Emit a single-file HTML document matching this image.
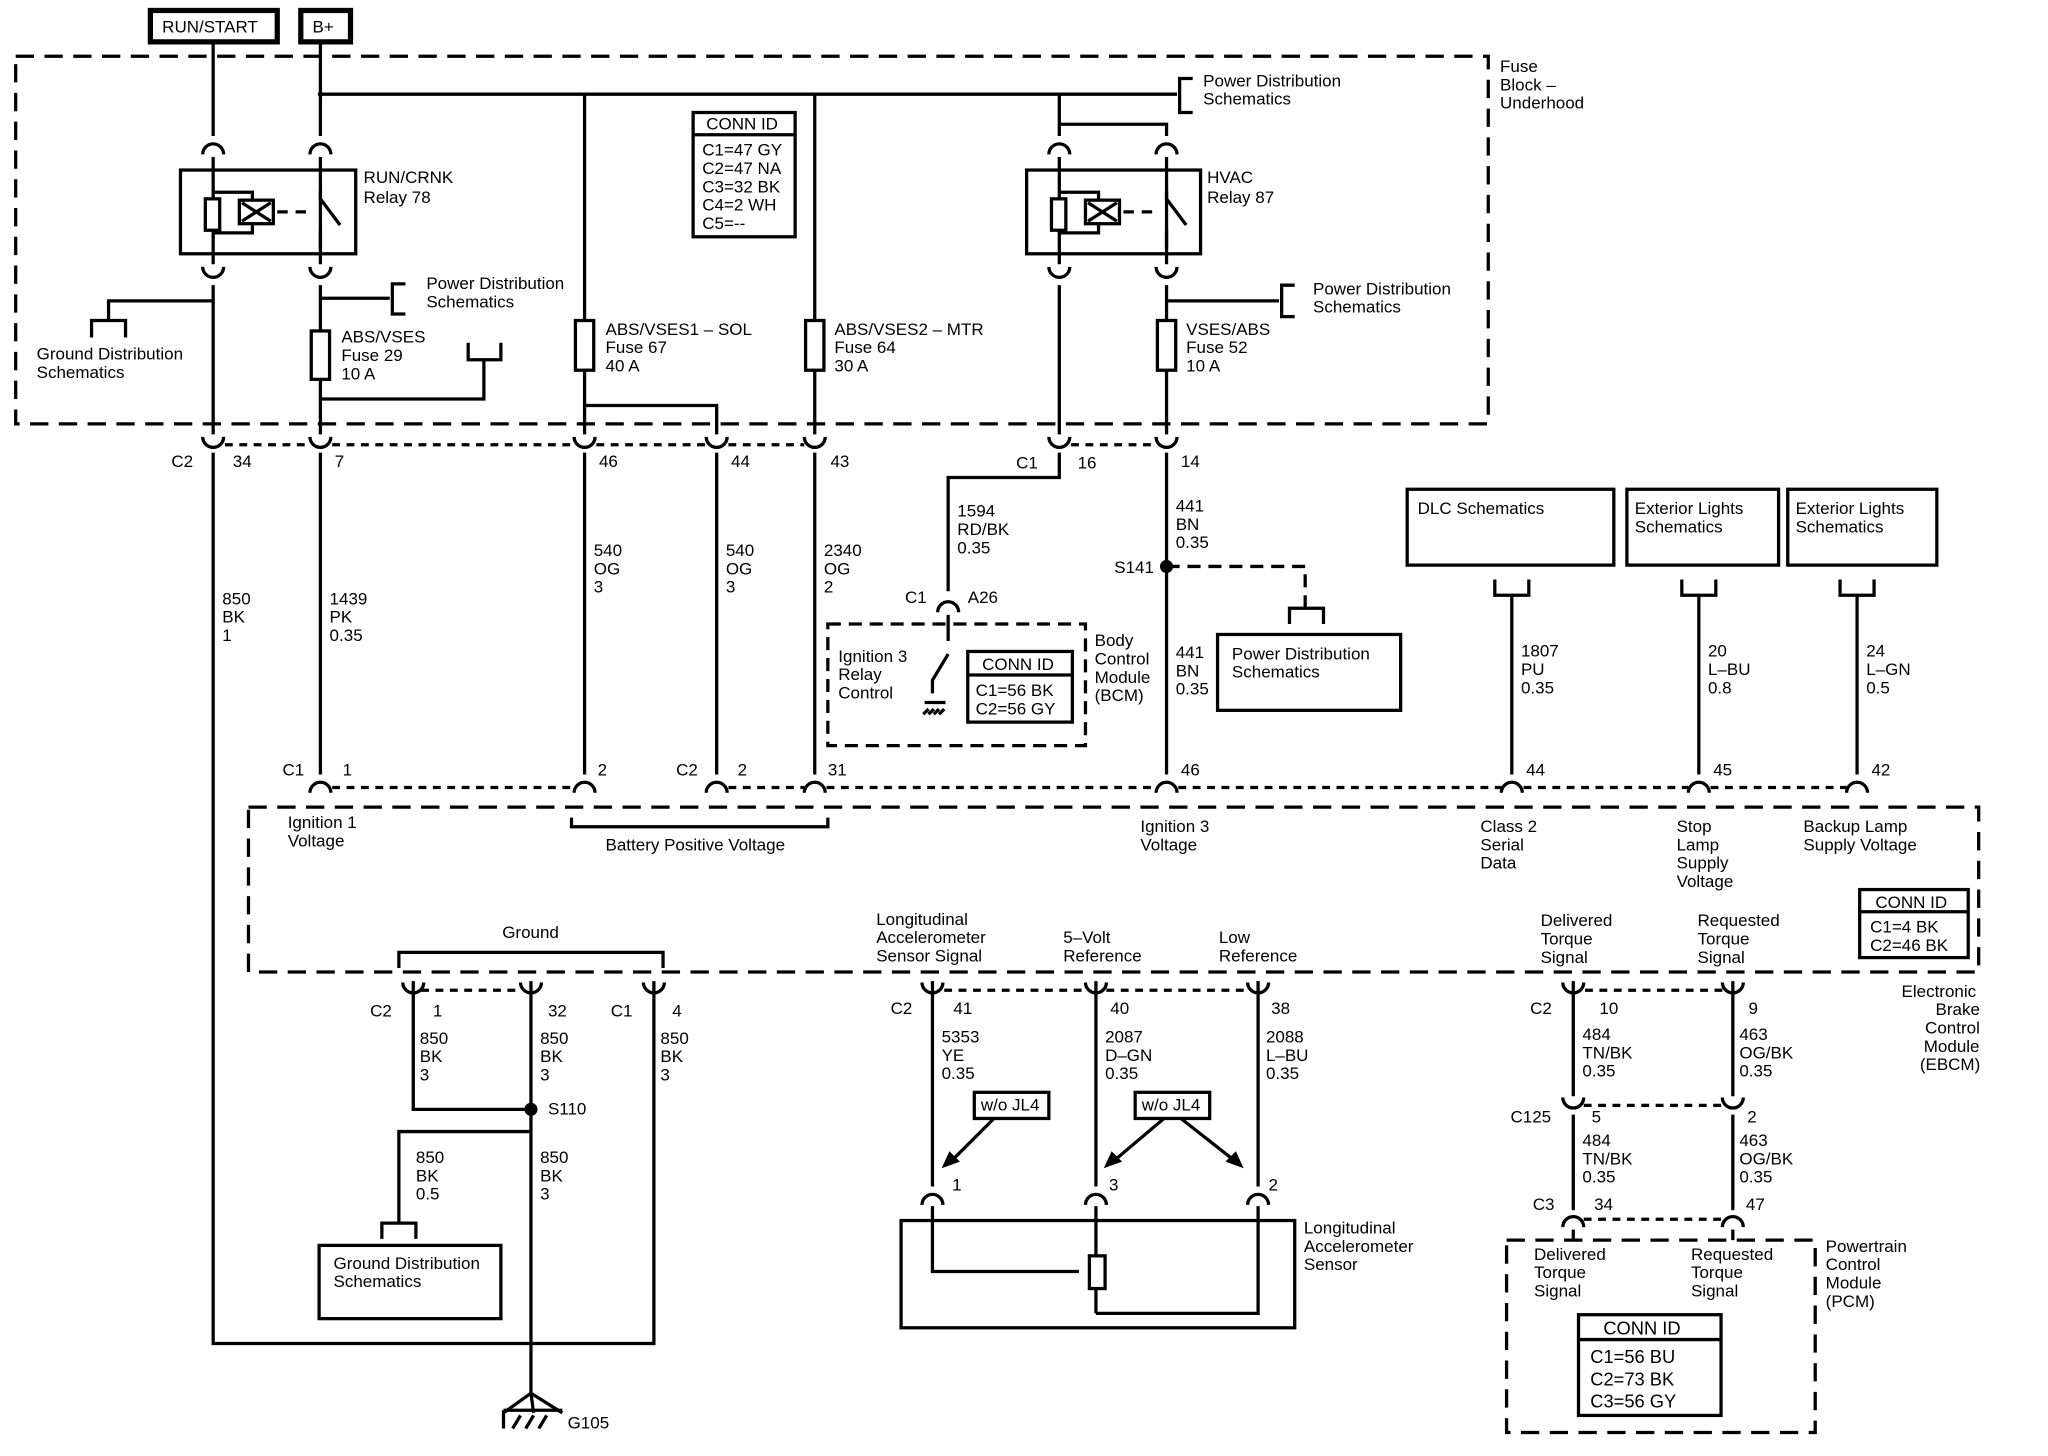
<!DOCTYPE html>
<html><head><meta charset="utf-8"><style>
html,body{margin:0;padding:0;background:#fff}
svg{display:block}
text{font-family:"Liberation Sans",sans-serif;font-size:13px;fill:#000}
</style></head><body>
<svg width="2048" height="1456" viewBox="0 0 1566 1113" preserveAspectRatio="none" xmlns="http://www.w3.org/2000/svg">
<defs>
<symbol id="n" overflow="visible"><path d="M-8,6 A8,8 0 0 1 8,6" fill="none" stroke="#000" stroke-width="2.5"/></symbol>
<symbol id="u" overflow="visible"><path d="M-8,-6 A8,8 0 0 0 8,-6" fill="none" stroke="#000" stroke-width="2.5"/></symbol>
</defs>
<g fill="none" stroke="#000" stroke-width="2.5">
<rect x="115" y="8" width="97" height="24" stroke-width="4"/>
<rect x="230" y="8" width="38" height="24" stroke-width="4"/>
<rect x="12" y="43" width="1126" height="281" stroke-dasharray="14,8"/>
<line x1="245" y1="72" x2="900" y2="72"/>
<path d="M912,60 H902 V86 H912"/>
<path d="M163,32 V104 M163,120 V202 M163,218 V332 M163,346 V1027 H500 V763"/>
<path d="M245,32 V104 M245,120 V202 M245,218 V332 M245,346 V592"/>
<path d="M447,72 V332 M447,346 V592"/>
<path d="M623,72 V332 M623,346 V592"/>
<path d="M447,310 H548 V332 M548,346 V592"/>
<rect x="138" y="130" width="134" height="64"/>
<path d="M163,147 H193 V178 H163"/>
<rect x="157" y="152" width="11" height="24" fill="#fff"/>
<rect x="183" y="153" width="26" height="18" fill="#fff"/>
<path d="M185,155 L207,169 M207,155 L185,169"/>
<path d="M212,162 H240" stroke-dasharray="8,6"/>
<path d="M245,146 V152 L260,172 M245,176 V190"/>
<path d="M70,258 V245 H96 V258 M83,245 V230 H163"/>
<rect x="238" y="253" width="14" height="37" fill="#fff"/>
<path d="M245,228 H298 M310,217 H300 V240 H310"/>
<path d="M245,305 H370 V275 M358,262 V275 H383 V262"/>
<rect x="440" y="245" width="14" height="38" fill="#fff"/>
<rect x="616" y="245" width="14" height="38" fill="#fff"/>
<path d="M810,72 V104 M810,120 V202 M810,218 V332 M810,346 V365 H725 V452 M810,95 H892 V104 M892,120 V202 M892,218 V332 M892,346 V592"/>
<rect x="785" y="130" width="133" height="64"/>
<path d="M810,147 H840 V178 H810"/>
<rect x="804" y="152" width="11" height="24" fill="#fff"/>
<rect x="830" y="153" width="26" height="18" fill="#fff"/>
<path d="M832,155 L854,169 M854,155 L832,169"/>
<path d="M859,162 H887" stroke-dasharray="8,6"/>
<path d="M892,146 V152 L907,172 M892,176 V190"/>
<rect x="885" y="245" width="14" height="38" fill="#fff"/>
<path d="M892,230 H978 M990,218 H980 V242 H990"/>
<rect x="530" y="86" width="78" height="95"/>
<line x1="530" y1="103" x2="608" y2="103"/>
<path d="M172,340 H237 M254,340 H439 M456,340 H540 M557,340 H615 M819,340 H884" stroke-dasharray="6,5"/>
<rect x="633" y="477" width="197" height="93" stroke-dasharray="10,6"/>
<path d="M725,470 V490 M725,500 L713,520 V530 M707,537 H723 M710,542 L706,546 M714,542 L710,546 M718,542 L714,546 M722,542 L718,546"/>
<rect x="740" y="498" width="80" height="54"/>
<line x1="740" y1="516" x2="820" y2="516"/>
<path d="M892,433 H998 V465" stroke-dasharray="10,6"/>
<path d="M986,477 V465 H1012 V477"/>
<rect x="931" y="485" width="140" height="58"/>
<rect x="1076" y="374" width="158" height="58"/>
<rect x="1244" y="374" width="116" height="58"/>
<rect x="1367" y="374" width="114" height="58"/>
<path d="M1143,443 V455 H1169 V443 M1156,455 V592"/>
<path d="M1286,443 V455 H1312 V443 M1299,455 V592"/>
<path d="M1407,443 V455 H1433 V443 M1420,455 V592"/>
<path d="M254,602 H439 M557,602 H615 M632,602 H884 M901,602 H1148 M1165,602 H1291 M1308,602 H1412" stroke-dasharray="6,5"/>
<rect x="190" y="617" width="1323" height="126" stroke-dasharray="14,8"/>
<path d="M437,625 V632 H633 V625"/>
<path d="M305,740 V728 H507 V740"/>
<rect x="1422" y="680" width="83" height="52"/>
<line x1="1422" y1="697" x2="1505" y2="697"/>
<path d="M316,750 V848 H406 M406,750 V1065 M406,865 H305 V935 M500,750 V763"/>
<path d="M292,947 V935 H318 V947"/>
<rect x="244" y="952" width="139" height="56"/>
<path d="M406,1065 L385,1080 M406,1065 L408,1080 M406,1065 L430,1080"/>
<path d="M385,1078 V1092 M385,1078 H430"/>
<path d="M392,1092 L398,1082 M402,1092 L408,1082 M412,1092 L418,1082"/>
<path d="M322,757 H398 M722,757 H830 M846,757 H954 M1212,757 H1317" stroke-dasharray="6,5"/>
<path d="M713,750 V907 M838,750 V907 M962,750 V907"/>
<rect x="745" y="835" width="57" height="20"/>
<rect x="868" y="835" width="57" height="20"/>
<path d="M760,855 L727,888 M890,855 L851,888 M903,855 L945,888"/>
<rect x="689" y="933" width="301" height="82"/>
<path d="M713,922 V972 H825 M838,922 V960 M838,985 V1004 M962,922 V1004 H838"/>
<rect x="833" y="960" width="12" height="25" fill="#fff"/>
<path d="M1203,750 V838 M1203,852 V925 M1203,940 V948 M1325,750 V838 M1325,852 V925 M1325,940 V948"/>
<path d="M1211,845 H1317 M1211,932 H1317" stroke-dasharray="6,5"/>
<rect x="1152" y="948" width="236" height="147" stroke-dasharray="14,8"/>
<rect x="1207" y="1005" width="109" height="77"/>
<line x1="1207" y1="1024" x2="1316" y2="1024"/>
</g>
<g fill="#000">
<path d="M720,893 L734,888 L726,880 Z"/>
<path d="M844,893 L858,888 L850,880 Z"/>
<path d="M951,893 L937,888 L945,880 Z"/>
<circle cx="892" cy="433" r="5"/>
<circle cx="406" cy="848" r="5"/>
<circle cx="245" cy="72" r="2"/>
</g>
<use href="#n" x="163" y="112"/><use href="#n" x="245" y="112"/>
<use href="#u" x="163" y="210"/><use href="#u" x="245" y="210"/>
<use href="#n" x="810" y="112"/><use href="#n" x="892" y="112"/>
<use href="#u" x="810" y="210"/><use href="#u" x="892" y="210"/>
<use href="#u" x="163" y="340"/><use href="#u" x="245" y="340"/><use href="#u" x="447" y="340"/><use href="#u" x="548" y="340"/><use href="#u" x="623" y="340"/><use href="#u" x="810" y="340"/><use href="#u" x="892" y="340"/>
<use href="#n" x="725" y="462"/>
<use href="#n" x="245" y="600"/><use href="#n" x="447" y="600"/><use href="#n" x="548" y="600"/><use href="#n" x="623" y="600"/><use href="#n" x="892" y="600"/><use href="#n" x="1156" y="600"/><use href="#n" x="1299" y="600"/><use href="#n" x="1420" y="600"/>
<use href="#u" x="316" y="757"/><use href="#u" x="406" y="757"/><use href="#u" x="500" y="757"/>
<use href="#u" x="713" y="757"/><use href="#u" x="838" y="757"/><use href="#u" x="962" y="757"/>
<use href="#n" x="713" y="915"/><use href="#n" x="838" y="915"/><use href="#n" x="962" y="915"/>
<use href="#u" x="1203" y="757"/><use href="#u" x="1325" y="757"/>
<use href="#u" x="1203" y="845"/><use href="#u" x="1325" y="845"/>
<use href="#n" x="1203" y="932"/><use href="#n" x="1325" y="932"/>
<text x="124" y="25">RUN/START</text><text x="239" y="25">B+</text>
<text x="1147" y="55">Fuse</text><text x="1147" y="69">Block –</text><text x="1147" y="83">Underhood</text>
<text x="920" y="66">Power Distribution</text><text x="920" y="80">Schematics</text>
<text x="278" y="140">RUN/CRNK</text><text x="278" y="155">Relay 78</text>
<text x="923" y="140">HVAC</text><text x="923" y="155">Relay 87</text>
<text x="540" y="99">CONN ID</text>
<text x="537" y="119">C1=47 GY</text><text x="537" y="133">C2=47 NA</text><text x="537" y="147">C3=32 BK</text><text x="537" y="161">C4=2 WH</text><text x="537" y="175">C5=--</text>
<text x="326" y="221">Power Distribution</text><text x="326" y="235">Schematics</text>
<text x="1004" y="225">Power Distribution</text><text x="1004" y="239">Schematics</text>
<text x="28" y="275">Ground Distribution</text><text x="28" y="289">Schematics</text>
<text x="261" y="262">ABS/VSES</text><text x="261" y="276">Fuse 29</text><text x="261" y="290">10 A</text>
<text x="463" y="256">ABS/VSES1 – SOL</text><text x="463" y="270">Fuse 67</text><text x="463" y="284">40 A</text>
<text x="638" y="256">ABS/VSES2 – MTR</text><text x="638" y="270">Fuse 64</text><text x="638" y="284">30 A</text>
<text x="907" y="256">VSES/ABS</text><text x="907" y="270">Fuse 52</text><text x="907" y="284">10 A</text>
<text x="131" y="357">C2</text><text x="178" y="357">34</text><text x="256" y="357">7</text><text x="458" y="357">46</text><text x="559" y="357">44</text><text x="635" y="357">43</text>
<text x="777" y="358">C1</text><text x="824" y="358">16</text><text x="903" y="357">14</text>
<text x="170" y="462">850</text><text x="170" y="476">BK</text><text x="170" y="490">1</text>
<text x="252" y="462">1439</text><text x="252" y="476">PK</text><text x="252" y="490">0.35</text>
<text x="454" y="425">540</text><text x="454" y="439">OG</text><text x="454" y="453">3</text>
<text x="555" y="425">540</text><text x="555" y="439">OG</text><text x="555" y="453">3</text>
<text x="630" y="425">2340</text><text x="630" y="439">OG</text><text x="630" y="453">2</text>
<text x="732" y="395">1594</text><text x="732" y="409">RD/BK</text><text x="732" y="423">0.35</text>
<text x="899" y="391">441</text><text x="899" y="405">BN</text><text x="899" y="419">0.35</text>
<text x="852" y="438">S141</text>
<text x="899" y="503">441</text><text x="899" y="517">BN</text><text x="899" y="531">0.35</text>
<text x="692" y="461">C1</text><text x="740" y="461">A26</text>
<text x="641" y="506">Ignition 3</text><text x="641" y="520">Relay</text><text x="641" y="534">Control</text>
<text x="751" y="512">CONN ID</text><text x="746" y="532">C1=56 BK</text><text x="746" y="546">C2=56 GY</text>
<text x="837" y="494">Body</text><text x="837" y="508">Control</text><text x="837" y="522">Module</text><text x="837" y="536">(BCM)</text>
<text x="942" y="504">Power Distribution</text><text x="942" y="518">Schematics</text>
<text x="1084" y="393">DLC Schematics</text>
<text x="1250" y="393">Exterior Lights</text><text x="1250" y="407">Schematics</text>
<text x="1373" y="393">Exterior Lights</text><text x="1373" y="407">Schematics</text>
<text x="1163" y="502">1807</text><text x="1163" y="516">PU</text><text x="1163" y="530">0.35</text>
<text x="1306" y="502">20</text><text x="1306" y="516">L–BU</text><text x="1306" y="530">0.8</text>
<text x="1427" y="502">24</text><text x="1427" y="516">L–GN</text><text x="1427" y="530">0.5</text>
<text x="216" y="593">C1</text><text x="262" y="593">1</text><text x="457" y="593">2</text><text x="517" y="593">C2</text><text x="564" y="593">2</text><text x="633" y="593">31</text><text x="903" y="593">46</text><text x="1167" y="593">44</text><text x="1310" y="593">45</text><text x="1431" y="593">42</text>
<text x="220" y="633">Ignition 1</text><text x="220" y="647">Voltage</text>
<text x="463" y="650">Battery Positive Voltage</text>
<text x="872" y="636">Ignition 3</text><text x="872" y="650">Voltage</text>
<text x="1132" y="636">Class 2</text><text x="1132" y="650">Serial</text><text x="1132" y="664">Data</text>
<text x="1282" y="636">Stop</text><text x="1282" y="650">Lamp</text><text x="1282" y="664">Supply</text><text x="1282" y="678">Voltage</text>
<text x="1379" y="636">Backup Lamp</text><text x="1379" y="650">Supply Voltage</text>
<text x="1434" y="694">CONN ID</text><text x="1430" y="713">C1=4 BK</text><text x="1430" y="727">C2=46 BK</text>
<text x="1454" y="762">Electronic</text><text x="1480" y="776">Brake</text><text x="1472" y="790">Control</text><text x="1471" y="804">Module</text><text x="1468" y="818">(EBCM)</text>
<text x="384" y="717">Ground</text>
<text x="670" y="707">Longitudinal</text><text x="670" y="721">Accelerometer</text><text x="670" y="735">Sensor Signal</text>
<text x="813" y="721">5–Volt</text><text x="813" y="735">Reference</text>
<text x="932" y="721">Low</text><text x="932" y="735">Reference</text>
<text x="1178" y="708">Delivered</text><text x="1178" y="722">Torque</text><text x="1178" y="736">Signal</text>
<text x="1298" y="708">Requested</text><text x="1298" y="722">Torque</text><text x="1298" y="736">Signal</text>
<text x="283" y="777">C2</text><text x="331" y="777">1</text><text x="419" y="777">32</text><text x="467" y="777">C1</text><text x="514" y="777">4</text>
<text x="321" y="798">850</text><text x="321" y="812">BK</text><text x="321" y="826">3</text>
<text x="413" y="798">850</text><text x="413" y="812">BK</text><text x="413" y="826">3</text>
<text x="505" y="798">850</text><text x="505" y="812">BK</text><text x="505" y="826">3</text>
<text x="419" y="852">S110</text>
<text x="318" y="889">850</text><text x="318" y="903">BK</text><text x="318" y="917">0.5</text>
<text x="413" y="889">850</text><text x="413" y="903">BK</text><text x="413" y="917">3</text>
<text x="255" y="970">Ground Distribution</text><text x="255" y="984">Schematics</text>
<text x="434" y="1092">G105</text>
<text x="681" y="775">C2</text><text x="729" y="775">41</text><text x="849" y="775">40</text><text x="972" y="775">38</text>
<text x="720" y="797">5353</text><text x="720" y="811">YE</text><text x="720" y="825">0.35</text>
<text x="845" y="797">2087</text><text x="845" y="811">D–GN</text><text x="845" y="825">0.35</text>
<text x="968" y="797">2088</text><text x="968" y="811">L–BU</text><text x="968" y="825">0.35</text>
<text x="750" y="849">w/o JL4</text><text x="873" y="849">w/o JL4</text>
<text x="728" y="910">1</text><text x="848" y="910">3</text><text x="970" y="910">2</text>
<text x="997" y="943">Longitudinal</text><text x="997" y="957">Accelerometer</text><text x="997" y="971">Sensor</text>
<text x="1170" y="775">C2</text><text x="1223" y="775">10</text><text x="1337" y="775">9</text>
<text x="1210" y="795">484</text><text x="1210" y="809">TN/BK</text><text x="1210" y="823">0.35</text>
<text x="1330" y="795">463</text><text x="1330" y="809">OG/BK</text><text x="1330" y="823">0.35</text>
<text x="1155" y="858">C125</text><text x="1217" y="858">5</text><text x="1336" y="858">2</text>
<text x="1210" y="876">484</text><text x="1210" y="890">TN/BK</text><text x="1210" y="904">0.35</text>
<text x="1330" y="876">463</text><text x="1330" y="890">OG/BK</text><text x="1330" y="904">0.35</text>
<text x="1172" y="925">C3</text><text x="1219" y="925">34</text><text x="1335" y="925">47</text>
<text x="1173" y="963">Delivered</text><text x="1173" y="977">Torque</text><text x="1173" y="991">Signal</text>
<text x="1293" y="963">Requested</text><text x="1293" y="977">Torque</text><text x="1293" y="991">Signal</text>
<text x="1396" y="957">Powertrain</text><text x="1396" y="971">Control</text><text x="1396" y="985">Module</text><text x="1396" y="999">(PCM)</text>
<text x="1226" y="1020" style="font-size:14px">CONN ID</text>
<text x="1216" y="1042" style="font-size:14px">C1=56 BU</text><text x="1216" y="1059" style="font-size:14px">C2=73 BK</text><text x="1216" y="1076" style="font-size:14px">C3=56 GY</text>
</svg>
</body></html>
